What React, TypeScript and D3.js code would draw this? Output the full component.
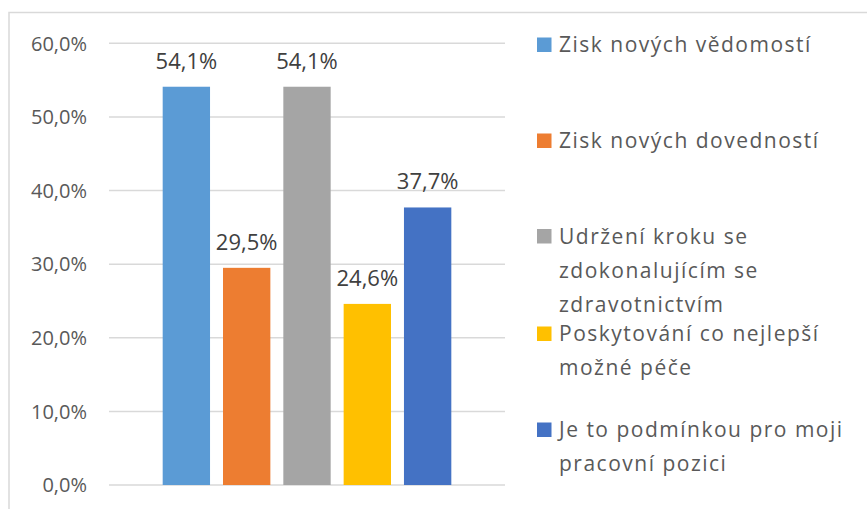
import React from "react";
import * as d3 from "d3";

const categories = [
  "Zisk nových vědomostí",
  "Zisk nových dovedností",
  "Udržení kroku se zdokonalujícím se zdravotnictvím",
  "Poskytování co nejlepší možné péče",
  "Je to podmínkou pro moji pracovní pozici",
];
const values = [54.1, 29.5, 54.1, 24.6, 37.7];
const colors = ["#5B9BD5", "#ED7D31", "#A5A5A5", "#FFC000", "#4472C4"];
const legendLines = [
  ["Zisk nových vědomostí"],
  ["Zisk nových dovedností"],
  ["Udržení kroku se", "zdokonalujícím se", "zdravotnictvím"],
  ["Poskytování co nejlepší", "možné péče"],
  ["Je to podmínkou pro moji", "pracovní pozici"],
];
const yTicks = [0, 10, 20, 30, 40, 50, 60];

const W = 867;
const H = 509;
const plot = { left: 109, right: 505, top: 43.3, bottom: 485 };
const legendBaselines = [52, 148, 243.5, 341, 437];
const legendLineH = 34.2;

const fmt = (v: number) => v.toFixed(1).replace(".", ",") + "%";

export default function App() {
  const y = d3.scaleLinear().domain([0, 60]).range([plot.bottom, plot.top]);
  const x = d3
    .scaleBand<string>()
    .domain(categories)
    .range([plot.left, plot.right])
    .paddingInner(0.215)
    .paddingOuter(0.89);
  const font = "'Open Sans', sans-serif";
  return (
    <svg
      width={W}
      height={H}
      style={{ position: "absolute", left: 0, top: 0, background: "#fff" }}
    >
      <rect x={9} y={12.5} width={W} height={H} fill="#fff" stroke="#d9d9d9" strokeWidth={1.5} />
      {yTicks.map((t) => (
        <g key={t}>
          <line x1={plot.left} x2={plot.right} y1={y(t)} y2={y(t)} stroke="#d9d9d9" strokeWidth={1.5} />
          <text
            x={87}
            y={y(t) + 7.2}
            textAnchor="end"
            fontFamily={font}
            fontSize={20}
            fill="#595959"
          >
            {fmt(t)}
          </text>
        </g>
      ))}
      {categories.map((c, i) => (
        <g key={c}>
          <rect
            x={x(c)}
            y={y(values[i])}
            width={x.bandwidth()}
            height={y(0) - y(values[i])}
            fill={colors[i]}
          />
          <text
            x={(x(c) as number) + x.bandwidth() / 2}
            y={y(values[i]) - 18}
            textAnchor="middle"
            fontFamily={font}
            fontSize={22}
            fill="#404040"
          >
            {fmt(values[i])}
          </text>
        </g>
      ))}
      {legendLines.map((lines, i) => (
        <g key={i}>
          <rect x={537} y={legendBaselines[i] - 14.5} width={14.5} height={14.5} fill={colors[i]} />
          {lines.map((ln, j) => (
            <text
              key={j}
              x={559}
              y={legendBaselines[i] + j * legendLineH}
              fontFamily={font}
              fontSize={21}
              letterSpacing={1.5}
              fill="#595959"
            >
              {ln}
            </text>
          ))}
        </g>
      ))}
    </svg>
  );
}
